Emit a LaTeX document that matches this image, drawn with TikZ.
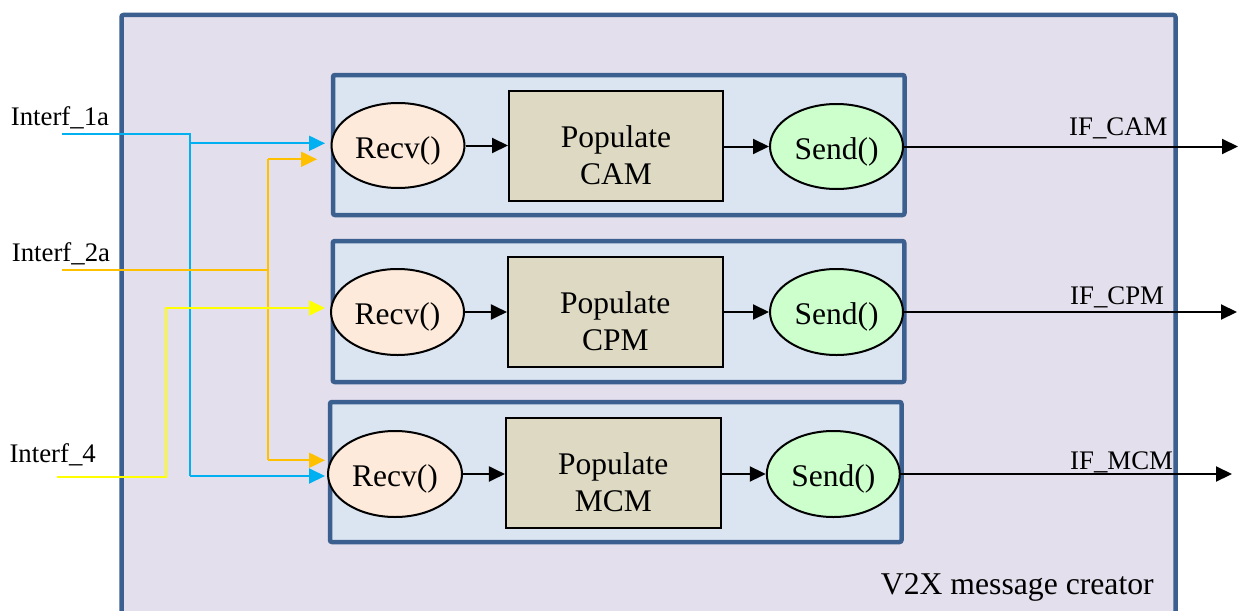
\documentclass[tikz,border=0pt]{standalone}
\usepackage{fontspec}
\setmainfont{Liberation Serif}
\usetikzlibrary{shapes.geometric,arrows.meta}
\definecolor{framec}{HTML}{3B5F8E}
\definecolor{outerfill}{HTML}{E4DFEC}
\definecolor{innerfill}{HTML}{DBE5F1}
\definecolor{popfill}{HTML}{DDD9C3}
\definecolor{recvfill}{HTML}{FDEADA}
\definecolor{sendfill}{HTML}{CCFFCC}
\definecolor{lblue}{HTML}{00B0F0}
\definecolor{lorange}{HTML}{FFC000}
\definecolor{lyellow}{HTML}{FFFF00}
\tikzset{
  outerbox/.style={draw=framec, fill=outerfill, line width=4.5pt, rounded corners=2pt, inner sep=0pt, outer sep=0pt},
  innerbox/.style={draw=framec, fill=innerfill, line width=4.5pt, rounded corners=2pt, inner sep=0pt, minimum width=571.5pt, minimum height=140pt},
  popbox/.style={draw=black, fill=popfill, line width=2pt, inner sep=0pt, minimum width=214pt, minimum height=110pt},
  recvell/.style={ellipse, draw=black, fill=recvfill, line width=2pt, inner sep=0pt, minimum width=133pt, minimum height=85pt, text height=25.6pt, text depth=0pt, font=\fontsize{31.5}{37}\selectfont},
  sendell/.style={recvell, fill=sendfill},
  boxtext/.style={anchor=base, inner sep=0pt, font=\fontsize{31.5}{37}\selectfont},
  lbl/.style={anchor=base west, inner sep=0pt, font=\fontsize{26.8}{30}\selectfont},
  tip/.style={-{Triangle[length=16pt,width=15pt]}},
  blk/.style={tip, draw=black, line width=2pt},
  cblue/.style={draw=lblue, line width=2pt},
  corange/.style={draw=lorange, line width=2pt},
  cyellow/.style={draw=lyellow, line width=2pt},
}
\begin{document}
\begin{tikzpicture}[x=1pt,y=-1pt]
\useasboundingbox (0,0) rectangle (1238,610);
\clip (0,0) rectangle (1238,610);
\fill[white] (0,0) rectangle (1238,610);

% outer container
\node[outerbox, minimum width=1054pt, minimum height=660pt, anchor=north west] (outer) at (121.5,15) {};
\node[lbl, font=\fontsize{31.7}{36}\selectfont] (title) at (880.7,594) {V2X message creator};

% inner boxes
\node[innerbox] (box1) at (618.75,145) {};
\node[innerbox, minimum height=141pt] (box2) at (618.5,311.5) {};
\node[innerbox] (box3) at (615.75,472) {};

% row 1
\node[recvell] (recv1) at (398,145.5) {Recv()};
\node[popbox] (pop1) at (616,146) {};
\node[boxtext] (pop1a) at (616,147.3) {Populate};
\node[boxtext] (pop1b) at (616,184) {CAM};
\node[sendell] (send1) at (836.5,146.5) {Send()};

% row 2
\node[recvell, minimum height=86pt] (recv2) at (397.5,312) {Recv()};
\node[popbox, minimum width=214.7pt] (pop2) at (615.3,311.7) {};
\node[boxtext] (pop2a) at (615.3,313) {Populate};
\node[boxtext] (pop2b) at (615.3,350) {CPM};
\node[sendell, minimum height=86pt] (send2) at (836.5,312) {Send()};

% row 3
\node[recvell, minimum height=86pt, minimum width=134pt] (recv3) at (395,474) {Recv()};
\node[popbox, minimum width=214.7pt] (pop3) at (613.3,473) {};
\node[boxtext] (pop3a) at (613.3,474.5) {Populate};
\node[boxtext] (pop3b) at (613.3,511.5) {MCM};
\node[sendell, minimum height=86pt] (send3) at (833.3,474) {Send()};

% internal arrows
\draw[blk] (recv1.east) -- (pop1.west |- recv1.east);
\draw[blk] (pop1.east |- send1.west) -- (send1.west);
\draw[blk] (recv2.east) -- (pop2.west |- recv2.east);
\draw[blk] (pop2.east |- send2.west) -- (send2.west);
\draw[blk] (recv3.east) -- (pop3.west |- recv3.east);
\draw[blk] (pop3.east |- send3.west) -- (send3.west);

% outputs
\coordinate (o1) at (1238,146);
\coordinate (o2) at (1237,311);
\coordinate (o3) at (1232,476);
\draw[blk] (send1.east) -- (send1.east -| o1);
\draw[blk] (send2.east) -- (send2.east -| o2);
\draw[blk] (send3.east) -- (send3.east -| o3);
\node[lbl] (ifcam) at (1069,135.7) {IF\_CAM};
\node[lbl] (ifcpm) at (1070,304) {IF\_CPM};
\node[lbl] (ifmcm) at (1070,469) {IF\_MCM};

% inputs
\node[lbl] (in1) at (10.7,125) {Interf\_1a};
\node[lbl] (in2) at (11.7,261.7) {Interf\_2a};
\node[lbl] (in4) at (9.3,462.7) {Interf\_4};
\coordinate (i1) at (62,134);
\coordinate (i2) at (62,270);
\coordinate (i4) at (57,476.7);
\coordinate (t1b) at (325,143.3);
\coordinate (t3b) at (325,476);
\coordinate (t1o) at (317,159.3);
\coordinate (t3o) at (325,460.3);
\coordinate (t2y) at (325,308);

% blue
\draw[cblue] (i1) -- (190,134) -- (190,476);
\draw[cblue, tip] (190,476) -- (t3b);
\draw[cblue, tip] (190,143.3) -- (t1b);
% orange
\draw[corange] (i2) -- (268,270);
\draw[corange] (268,159.3) -- (268,460.3);
\draw[corange, tip] (268,159.3) -- (t1o);
\draw[corange, tip] (268,460.3) -- (t3o);
% yellow
\draw[cyellow, tip] (i4) -- (165.7,476.7) -- (165.7,308) -- (t2y);
\end{tikzpicture}
\end{document}
